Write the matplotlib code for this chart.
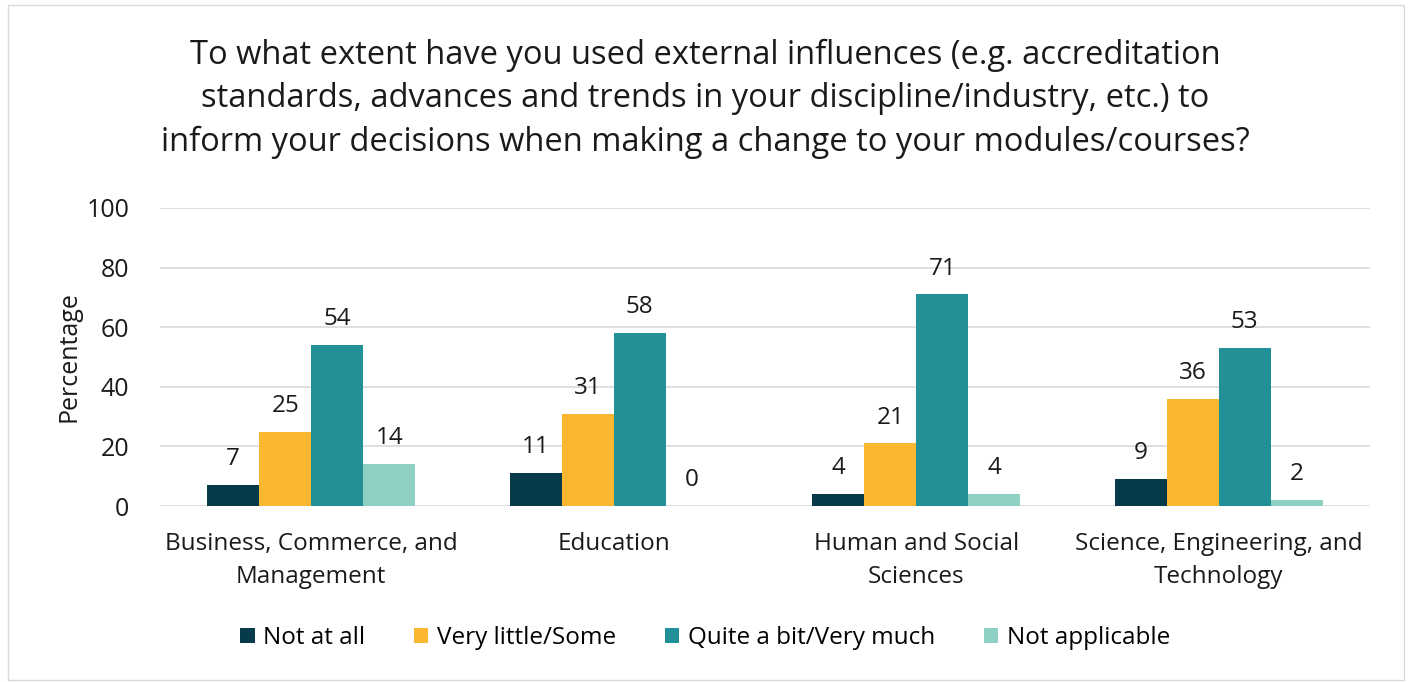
import matplotlib
matplotlib.use("Agg")
import matplotlib.pyplot as plt
import numpy as np
from matplotlib.patches import Rectangle

categories = ["Business, Commerce, and\nManagement", "Education",
              "Human and Social\nSciences", "Science, Engineering, and\nTechnology"]
series_names = ["Not at all", "Very little/Some", "Quite a bit/Very much", "Not applicable"]
not_at_all = [7, 11, 4, 9]
very_little = [25, 31, 21, 36]
quite_a_bit = [54, 58, 71, 53]
not_applicable = [14, 0, 4, 2]
colors = ["#073B4C", "#FBB731", "#219197", "#8ED1C4"]
yticks = [0, 20, 40, 60, 80, 100]
title = ("To what extent have you used external influences (e.g. accreditation\n"
         "standards, advances and trends in your discipline/industry, etc.) to\n"
         "inform your decisions when making a change to your modules/courses?")

plt.rcParams['font.family'] = ['Open Sans', 'DejaVu Sans']

fig = plt.figure(figsize=(14.10, 6.82), dpi=100)
fig.patches.append(Rectangle((0.006, 0.003), 0.99, 0.99, transform=fig.transFigure,
                             fill=False, edgecolor="#D9D9D9", linewidth=1))
ax = fig.add_axes([160/1410, 1 - 506/682, (1370-160)/1410, (506-208)/682])

data = [not_at_all, very_little, quite_a_bit, not_applicable]
x = np.arange(len(categories))
w = 0.172
for i, (vals, name, c) in enumerate(zip(data, series_names, colors)):
    pos = x + (i - 1.5) * w
    ax.bar(pos, vals, width=w, color=c, label=name, zorder=3)
    for p, v in zip(pos, vals):
        ax.annotate(str(v), (p, v), xytext=(0, 10), textcoords="offset points",
                    ha="center", va="bottom", fontsize=17.5, color="#1A1A1A")

ax.set_xlim(-0.5, len(categories) - 0.5)
ax.set_ylim(0, 100)
ax.set_yticks(yticks)
ax.set_yticklabels([str(t) for t in yticks], fontsize=18, color="#1A1A1A")
ax.tick_params(axis="y", length=0, pad=22)
ax.set_xticks(x)
ax.set_xticklabels(categories, fontsize=17.5, color="#1A1A1A", linespacing=1.5)
ax.tick_params(axis="x", length=0, pad=19)
ax.yaxis.grid(True, color="#D9D9D9", linewidth=1.2, zorder=0)
for s in ax.spines.values():
    s.set_visible(False)
ax.set_ylabel("Percentage", fontsize=18, color="#1A1A1A", labelpad=4)

fig.text(0.5, 1 - 39/682, title, ha="center", va="top", fontsize=23.5, color="#1A1A1A",
         linespacing=1.4)

leg = fig.legend(loc="center", bbox_to_anchor=(0.5, 1 - 638/682), ncol=4, frameon=False,
                 fontsize=17.5, handlelength=0.6, handleheight=0.6, columnspacing=2.0,
                 handletextpad=0.35)

fig.savefig("out.png", dpi=100)
